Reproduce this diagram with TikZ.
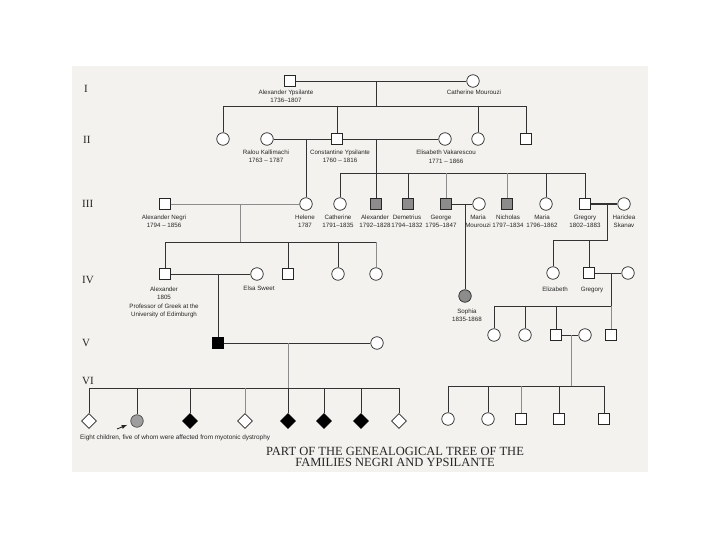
\documentclass[tikz,border=0pt]{standalone}
\usepackage{fontspec}
\setmainfont{Liberation Serif}
\setsansfont{Liberation Sans}
\usepackage{tikz}
\usetikzlibrary{shapes.geometric}
\definecolor{scan}{RGB}{243,242,238}
\definecolor{affgray}{RGB}{140,140,140}
\tikzset{link/.style={line width=0.8pt, black!80}}
\tikzset{faint link/.style={line width=0.7pt, black!45}}
\tikzstyle{male}     = [rectangle, draw=black!85, line width=0.7pt, minimum size=10.5pt, inner sep=0pt, fill=white]
\tikzstyle{female}   = [circle, draw=black!85, line width=0.7pt, minimum size=12.5pt, inner sep=0pt, fill=white]
\tikzstyle{unsexed}  = [diamond, draw=black!85, line width=0.7pt, minimum size=15pt, inner sep=0pt, fill=white]
\tikzstyle{affected} = [fill=affgray]
\tikzstyle{severe}   = [fill=black, draw=black]
\tikzstyle{who}      = [font=\sffamily\fontsize{6.2}{8.6}\selectfont, align=center, inner sep=0pt, text=black!85, anchor=north]
\tikzstyle{genlabel} = [font=\fontsize{11}{11}\selectfont, anchor=west, inner sep=0pt, text=black!85]

\begin{document}
\begin{tikzpicture}[x=1pt, y=-1pt]
  \useasboundingbox (0,0) rectangle (720,540);
  \fill[scan] (72,66) rectangle (648,472);

  % generations
  \node[genlabel] (gI)   at (84,89)  {I};
  \node[genlabel] (gII)  at (83,140) {II};
  \node[genlabel] (gIII) at (82,204) {III};
  \node[genlabel] (gIV)  at (82,280) {IV};
  \node[genlabel] (gV)   at (82,343) {V};
  \node[genlabel] (gVI)  at (82,381) {VI};

  % I
  \node[male]   (alexY) at (290,81) {};
  \node[female] (cathM) at (473,81) {};
  \node[who] (alexYlbl) at (286,89.5) {Alexander Ypsilante\\1736--1807};
  \node[who] (cathMlbl) at (474,89.5) {Catherine Mourouzi};

  % II
  \node[female] (circIIa) at (223,139) {};
  \node[female] (ralou)   at (267,139) {};
  \node[male]   (constY)  at (337,139) {};
  \node[female] (elisV)   at (445,139) {};
  \node[female] (circIIb) at (478,139) {};
  \node[male]   (sqIIb)   at (526,139) {};
  \node[who] (ralouLbl)  at (266,149.5) {Ralou Kallimachi\\1763 -- 1787};
  \node[who] (constYLbl) at (340,149.5) {Constantine Ypsilante\\1760 -- 1816};
  \node[who] (elisVLbl)  at (446,150)   {Elisabeth Vakarescou\\1771 -- 1866};

  % III
  \node[male]           (negri)    at (165,204) {};
  \node[female]         (helene)   at (306,204) {};
  \node[female]         (cathIII)  at (340,204) {};
  \node[male, affected] (alexA)    at (376,204) {};
  \node[male, affected] (demet)    at (408,204) {};
  \node[male, affected] (george)   at (446,204) {};
  \node[female]         (mariaM)   at (479,204) {};
  \node[male, affected] (nichol)   at (507,204) {};
  \node[female]         (mariaIII) at (546,204) {};
  \node[male]           (gregIII)  at (585,204) {};
  \node[female]         (haric)    at (624,204) {};
  \node[who] (negriLbl)    at (164,214.5) {Alexander Negri\\1794 -- 1856};
  \node[who] (heleneLbl)   at (305,214.5) {Helene\\1787};
  \node[who] (cathIIILbl)  at (338,214.5) {Catherine\\1791--1835};
  \node[who] (alexALbl)    at (375,214.5) {Alexander\\1792--1828};
  \node[who] (demetLbl)    at (407,214.5) {Demetrius\\1794--1832};
  \node[who] (georgeLbl)   at (441,214.5) {George\\1795--1847};
  \node[who] (mariaMLbl)   at (478,214.5) {Maria\\Mourouzi};
  \node[who] (nicholLbl)   at (508,214.5) {Nicholas\\1797--1834};
  \node[who] (mariaIIILbl) at (542,214.5) {Maria\\1796--1862};
  \node[who] (gregIIILbl)  at (585,214.5) {Gregory\\1802--1883};
  \node[who] (haricLbl)    at (624,214.5) {Hariclea\\Skanav};

  % IV
  \node[male]             (alexIV)  at (165,274) {};
  \node[female]           (elsa)    at (257,274) {};
  \node[male]             (sqIV)    at (288,274) {};
  \node[female]           (circIVa) at (338,274) {};
  \node[female]           (circIVb) at (376,274) {};
  \node[female, affected] (sophia)  at (465,296) {};
  \node[female]           (eliz)    at (553,273) {};
  \node[male]             (gregIV)  at (589,273) {};
  \node[female]           (wifeIV)  at (628,273) {};
  \node[who] (alexIVLbl)  at (164,286.5) {Alexander\\1805\\Professor of Greek at the\\University of Edimburgh};
  \node[who] (elsaLbl)    at (259,285.5) {Elsa Sweet};
  \node[who] (sophiaLbl)  at (467,308.5) {Sophia\\1835-1868};
  \node[who] (elizLbl)    at (555,286.5) {Elizabeth};
  \node[who] (gregIVLbl)  at (592,286.5) {Gregory};

  % V
  \node[male, severe] (blackV)  at (218,343) {};
  \node[female]       (wifeV)   at (377,343) {};
  \node[female]       (circVa)  at (494,335) {};
  \node[female]       (circVb)  at (525,335) {};
  \node[male]         (sqVa)    at (556,335) {};
  \node[female]       (spouseV) at (585,335) {};
  \node[male]         (sqVc)    at (611,335) {};

  % VI
  \node[unsexed]         (dA) at (89,421)  {};
  \node[female, fill=black!38, draw=black!70] (gB) at (137,421) {};
  \node[unsexed, severe] (dC) at (190,421) {};
  \node[unsexed]         (dD) at (245,421) {};
  \node[unsexed, severe] (dE) at (288,421) {};
  \node[unsexed, severe] (dF) at (324,421) {};
  \node[unsexed, severe] (dG) at (361,421) {};
  \node[unsexed]         (dH) at (399,421) {};
  \node[female] (circVIa) at (448,419) {};
  \node[female] (circVIb) at (488,419) {};
  \node[male]   (sqVIa)   at (521,419) {};
  \node[male]   (sqVIb)   at (559,419) {};
  \node[male]   (sqVIc)   at (604,419) {};

  \node[font=\sffamily\fontsize{6.4}{8}\selectfont, anchor=west, inner sep=0pt, text=black!85] (caption) at (80,438) {Eight children, five of whom were affected from myotonic dystrophy};
  \node[font=\fontsize{12.5}{11}\selectfont, align=center, inner sep=0pt, anchor=north, text=black!85] (title) at (395,447) {PART OF THE GENEALOGICAL TREE OF THE\\FAMILIES NEGRI AND YPSILANTE};

  % I -> II
  \coordinate (mAC)   at (376,81);
  \coordinate (sibII) at (376,106);
  \draw[link] (alexY) -- (cathM);
  \draw[link] (mAC) -- (sibII);
  \draw[link] (circIIa.north) -- (circIIa |- sibII) -- (sqIIb |- sibII) -- (sqIIb.north);
  \draw[link] (constY.north)  -- (constY |- sibII);
  \draw[link] (circIIb.north) -- (circIIb |- sibII);

  % II -> III
  \coordinate (mRC)    at (306,139);
  \coordinate (mCE)    at (376,139);
  \coordinate (sibIII) at (376,173);
  \draw[link] (ralou) -- (constY);
  \draw[link] (constY) -- (elisV);
  \draw[link] (mRC) -- (helene.north);
  \draw[link] (mCE) -- (alexA.north);
  \draw[link] (cathIII.north) -- (cathIII |- sibIII) -- (gregIII |- sibIII) -- (gregIII.north);
  \draw[link]       (demet.north)    -- (demet |- sibIII);
  \draw[faint link] (george.north)   -- (george |- sibIII);
  \draw[faint link] (nichol.north)   -- (nichol |- sibIII);
  \draw[link]       (mariaIII.north) -- (mariaIII |- sibIII);

  % III -> IV
  \coordinate (mNH)    at (240,204);
  \coordinate (sibIV)  at (240,242);
  \coordinate (mGM)    at (465,204);
  \coordinate (mGH)    at (607,204);
  \coordinate (sibIVr) at (607,240);
  \draw[faint link] (negri) -- (helene);
  \draw[faint link] (mNH) -- (sibIV);
  \draw[link] (alexIV.north) -- (alexIV |- sibIV) -- (circIVb |- sibIV);
  \draw[faint link] (circIVb |- sibIV) -- (circIVb.north);
  \draw[link] (sqIV.north)    -- (sqIV |- sibIV);
  \draw[link] (circIVa.north) -- (circIVa |- sibIV);
  \draw[link] (george) -- (mariaM);
  \draw[link] (mGM) -- (sophia.north);
  \draw[link, line width=1.2pt] (gregIII) -- (haric);
  \draw[link] (mGH) -- (sibIVr) -- (eliz |- sibIVr) -- (eliz.north);
  \draw[link] (gregIV.north) -- (gregIV |- sibIVr);

  % IV -> V
  \coordinate (mAE) at (218,274);
  \coordinate (mGW) at (611,273);
  \coordinate (sibV) at (611,306);
  \draw[link] (alexIV) -- (elsa);
  \draw[link] (mAE) -- (blackV.north);
  \draw[link] (gregIV) -- (wifeIV);
  \draw[link] (mGW) -- (sibV) -- (circVa |- sibV) -- (circVa.north);
  \draw[faint link] (sibV) -- (sqVc.north);
  \draw[link] (circVb.north) -- (circVb |- sibV);
  \draw[link] (sqVa.north)   -- (sqVa |- sibV);

  % V -> VI
  \coordinate (mBW)    at (288,343);
  \coordinate (sibVI)  at (288,388);
  \coordinate (mSS)    at (571,335);
  \coordinate (sibVIr) at (571,386);
  \draw[link] (blackV) -- (wifeV);
  \draw[faint link] (mBW) -- (sibVI);
  \draw[link] (dA.north) -- (dA |- sibVI) -- (dH |- sibVI) -- (dH.north);
  \draw[link]       (gB.north) -- (gB |- sibVI);
  \draw[link]       (dC.north) -- (dC |- sibVI);
  \draw[faint link] (dD.north) -- (dD |- sibVI);
  \draw[link]       (dE.north) -- (dE |- sibVI);
  \draw[link]       (dF.north) -- (dF |- sibVI);
  \draw[link]       (dG.north) -- (dG |- sibVI);
  \draw[link] (sqVa) -- (spouseV);
  \draw[faint link] (mSS) -- (sibVIr);
  \draw[link] (circVIa.north) -- (circVIa |- sibVIr) -- (sqVIc |- sibVIr) -- (sqVIc.north);
  \draw[link]       (circVIb.north) -- (circVIb |- sibVIr);
  \draw[faint link] (sqVIa.north)   -- (sqVIa |- sibVIr);
  \draw[link]       (sqVIb.north)   -- (sqVIb |- sibVIr);

  \coordinate (arrTail) at (117,429);
  \draw[-latex, line width=0.9pt, black!85, shorten >=4pt] (arrTail) -- (gB);
\end{tikzpicture}
\end{document}
